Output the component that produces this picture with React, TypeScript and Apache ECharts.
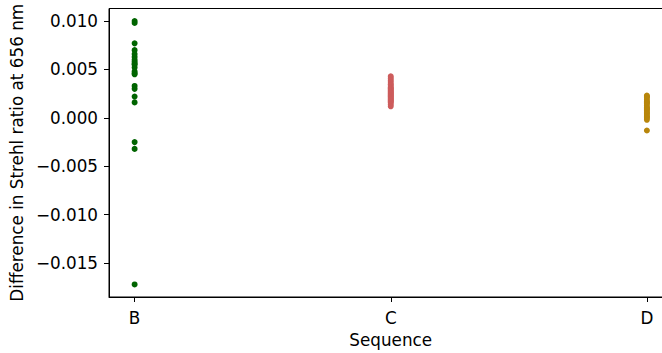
import React, { useEffect, useRef } from "react";
import * as echarts from "echarts";

const categories = ["B", "C", "D"];
const seriesColors = ["#006400", "#CD5C5C", "#B8860B"];
const valuesB = [
  0.01, 0.0098, 0.0077, 0.007, 0.0066, 0.0063, 0.006, 0.0058, 0.0056, 0.0055, 0.0052,
  0.0048, 0.0046, 0.0045, 0.0033, 0.003, 0.0022, 0.0016, -0.0025, -0.0032, -0.0172,
];
const valuesC = [
  0.0043, 0.0041, 0.0039, 0.0037, 0.0035, 0.0034, 0.0032, 0.0031, 0.003, 0.0029, 0.0028,
  0.0027, 0.0026, 0.0025, 0.0024, 0.0023, 0.0022, 0.0021, 0.002, 0.0019, 0.0018, 0.0017,
  0.0016, 0.0014, 0.0012,
];
const valuesD = [
  0.0023, 0.0022, 0.0021, 0.0019, 0.0017, 0.0016, 0.0015, 0.0013, 0.0011, 0.001, 0.0009,
  0.0008, 0.0006, 0.0005, 0.0004, 0.0002, 0.0001, 0.0, -0.0002, -0.0013,
];
const yTicks = [-0.015, -0.01, -0.005, 0.0, 0.005, 0.01];
const xTicks = [0, 1, 2];

const allValues = [valuesB, valuesC, valuesD];

export default function App() {
  const ref = useRef<HTMLDivElement>(null);
  useEffect(() => {
    document.body.style.margin = "0";
    const chart = echarts.init(ref.current!, undefined, { renderer: "svg" });
    const font = "DejaVu Sans";
    const fs = 16.8;
    chart.setOption({
      animation: false,
      backgroundColor: "#ffffff",
      textStyle: { fontFamily: font },
      grid: {
        left: 104,
        top: 8.5,
        width: 568.5,
        height: 294,
        show: true,
        borderColor: "#000",
        borderWidth: 1,
        containLabel: false,
      },
      xAxis: {
        type: "value",
        min: -0.1,
        max: 2.1,
        name: "Sequence",
        nameLocation: "middle",
        nameGap: 34,
        nameTextStyle: { fontSize: fs, color: "#000", fontFamily: font },
        axisLine: { show: true, onZero: false, lineStyle: { color: "#000", width: 1 } },
        axisTick: { show: true, length: 5, customValues: xTicks, lineStyle: { color: "#000" } },
        axisLabel: {
          customValues: xTicks,
          formatter: (v: number) => categories[Math.round(v)] ?? "",
          fontSize: fs,
          color: "#000",
          margin: 12,
          fontFamily: font,
        },
        splitLine: { show: false },
      },
      yAxis: {
        type: "value",
        min: -0.0185,
        max: 0.0113,
        name: "Difference in Strehl ratio at 656 nm",
        nameLocation: "middle",
        nameGap: 74,
        nameTextStyle: { fontSize: fs, color: "#000", fontFamily: font },
        axisLine: { show: true, onZero: false, lineStyle: { color: "#000", width: 1 } },
        axisTick: { show: true, length: 5, customValues: yTicks, lineStyle: { color: "#000" } },
        axisLabel: {
          customValues: yTicks,
          formatter: (v: number) => (Math.abs(v) < 1e-9 ? "0.000" : v.toFixed(3).replace("-", "\u2212")),
          fontSize: fs,
          color: "#000",
          margin: 11,
          fontFamily: font,
        },
        splitLine: { show: false },
      },
      series: allValues.map((vals, i) => ({
        type: "scatter",
        symbolSize: 6,
        itemStyle: { color: seriesColors[i], opacity: 1 },
        data: vals.map((v) => [i, v]),
      })),
    });
    return () => chart.dispose();
  }, []);
  return (
    <div style={{ width: 662, height: 353, position: "absolute", left: 0, top: 0, overflow: "hidden" }}>
      <div ref={ref} style={{ width: 700, height: 353 }} />
    </div>
  );
}
